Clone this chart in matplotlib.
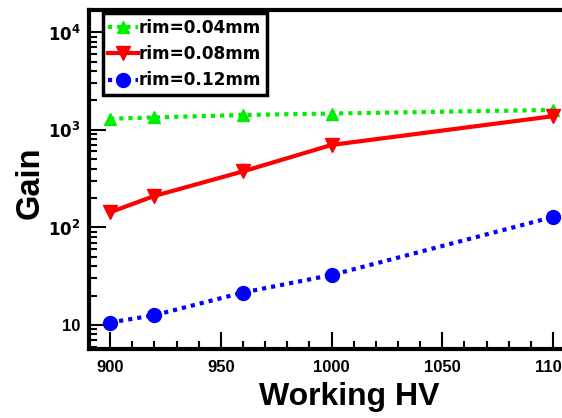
import matplotlib
matplotlib.use("Agg")
import matplotlib.pyplot as plt
from matplotlib.ticker import LogLocator, FixedLocator, FixedFormatter, NullFormatter, MultipleLocator

plt.rcParams['font.family'] = ['Liberation Sans', 'DejaVu Sans']

hv = [900, 920, 960, 1000, 1100]
gain_004 = [1300, 1340, 1420, 1470, 1600]
gain_008 = [143, 210, 375, 700, 1380]
gain_012 = [10.6, 12.6, 21.5, 32.5, 128]
labels = ["rim=0.04mm", "rim=0.08mm", "rim=0.12mm"]
xticks = [900, 950, 1000, 1050, 1100]
yticks = [10, 100, 1000, 10000]
ytick_labels = ["10", "$\\mathbf{10^2}$", "$\\mathbf{10^3}$", "$\\mathbf{10^4}$"]

fig = plt.figure(figsize=(5.62, 4.18), dpi=100)
ax = fig.add_axes([0.1584, 0.165, 0.865, 0.811])

ax.plot(hv, gain_004, color='#00ee00', ls=(0, (1, 1.2)), lw=3, marker='^', ms=9, label=labels[0])
ax.plot(hv, gain_008, color='#ff0000', ls='-', lw=3, marker='v', ms=9.5, label=labels[1])
ax.plot(hv, gain_012, color='#0000ff', ls=(0, (1, 1.2)), lw=3, marker='o', ms=10, label=labels[2])

ax.set_yscale('log')
ax.set_xlim(890.5, 1110)
ax.set_ylim(5.67, 16900)

ax.xaxis.set_major_locator(FixedLocator(xticks))
ax.xaxis.set_minor_locator(MultipleLocator(10))
ax.yaxis.set_major_locator(FixedLocator(yticks))
ax.yaxis.set_major_formatter(FixedFormatter(ytick_labels))
ax.yaxis.set_minor_locator(LogLocator(base=10, subs=range(2, 10)))
ax.yaxis.set_minor_formatter(NullFormatter())

ax.tick_params(axis='both', which='major', direction='in', length=12, width=1.5,
               labelsize=12, top=False, right=False)
ax.tick_params(axis='both', which='minor', direction='in', length=6, width=1.5,
               top=False, right=False)
for lab in ax.get_xticklabels() + ax.get_yticklabels():
    lab.set_fontweight('bold')
ax.tick_params(axis='x', pad=8)
ax.tick_params(axis='y', pad=6)

for s in ax.spines.values():
    s.set_linewidth(3)

ax.set_xlabel("Working HV", fontsize=23, fontweight='bold')
ax.xaxis.set_label_coords(0.535, -0.098)
ax.set_ylabel("Gain", fontsize=23.5, fontweight='bold')
ax.yaxis.set_label_coords(-0.089, 0.49)

leg = ax.legend(loc='upper left', bbox_to_anchor=(0.028, 0.99),
                prop={'family': 'DejaVu Sans', 'weight': 'bold', 'size': 12.2},
                frameon=True, fancybox=False, handlelength=1.8, handletextpad=0.05,
                borderpad=0.3, labelspacing=0.5, borderaxespad=0.0)
leg.get_frame().set_edgecolor('black')
leg.get_frame().set_linewidth(2.5)
leg.get_frame().set_alpha(1)

fig.savefig("out.png", dpi=100)
